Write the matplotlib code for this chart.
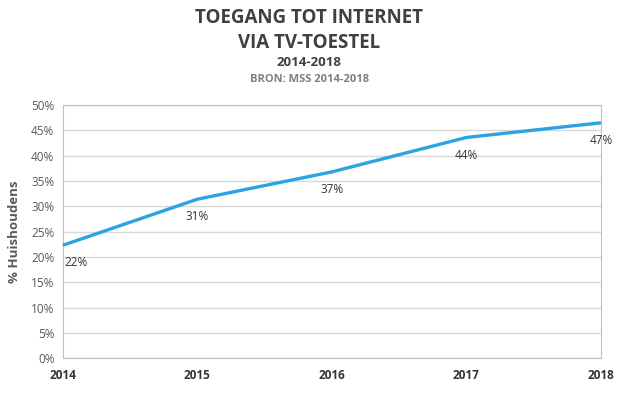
import matplotlib.pyplot as plt
import matplotlib.ticker as mtick

plt.rcParams['font.family'] = ['Open Sans', 'DejaVu Sans']

years = [2014, 2015, 2016, 2017, 2018]
share = [22.3, 31.4, 36.8, 43.6, 46.5]
labels = ['22%', '31%', '37%', '44%', '47%']

fig = plt.figure(figsize=(6.4, 3.98), dpi=100)
ax = fig.add_axes([0.098, 0.1, 0.841, 0.636])

ax.plot(years, share, color='#2aa3e4', lw=2.4, solid_capstyle='butt', clip_on=False, zorder=3)

for x, y, t in zip(years, share, labels):
    ha = 'left' if x == years[0] else 'center'
    dx = 1 if x == years[0] else 0
    ax.annotate(t, (x, y), xytext=(dx, -8), textcoords='offset points',
                ha=ha, va='top', fontsize=8.5, color='#333333', annotation_clip=False)

ax.set_xlim(2014, 2018)
ax.set_ylim(0, 50)
ax.set_xticks(years)
ax.set_yticks(range(0, 51, 5))
ax.yaxis.set_major_formatter(mtick.FuncFormatter(lambda v, p: f'{v:.0f}%'))
ax.grid(axis='y', color='#d9d9d9', lw=1)
ax.set_axisbelow(True)
for s in ax.spines.values():
    s.set_color('#c0c0c0')
ax.tick_params(length=0)
ax.tick_params(axis='y', labelsize=8.5, labelcolor='#595959', pad=6)
ax.tick_params(axis='x', labelsize=8.5, labelcolor='#333333', pad=8)
for lab in ax.get_xticklabels():
    lab.set_fontweight('bold')

ax.set_ylabel('% Huishoudens', fontsize=9.5, fontweight='bold', color='#595959', labelpad=7)

fig.text(0.483, 0.955, 'TOEGANG TOT INTERNET', ha='center', va='center',
         fontsize=13.5, fontweight='bold', color='#404040')
fig.text(0.483, 0.893, 'VIA TV-TOESTEL', ha='center', va='center',
         fontsize=13.5, fontweight='bold', color='#404040')
fig.text(0.483, 0.843, '2014-2018', ha='center', va='center',
         fontsize=9.5, fontweight='bold', color='#404040')
fig.text(0.483, 0.799, 'BRON: MSS 2014-2018', ha='center', va='center',
         fontsize=8, fontweight='bold', color='#7f7f7f')

fig.savefig('out.png', dpi=100)
